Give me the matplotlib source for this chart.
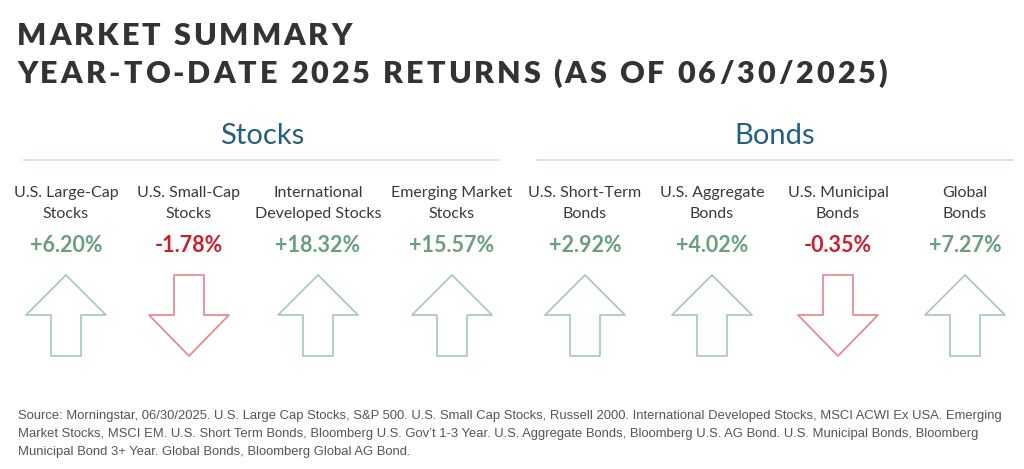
"""
Market summary panel: YTD 2025 returns for stock and bond indexes,
drawn as labelled up/down outline arrows.
"""

import matplotlib

matplotlib.use("Agg")
import matplotlib.pyplot as plt
from matplotlib.font_manager import FontProperties
from matplotlib.patches import Polygon

# --- data -------------------------------------------------------------
title_lines = ["MARKET SUMMARY", "YEAR-TO-DATE 2025 RETURNS (AS OF 06/30/2025)"]
groups = ["Stocks", "Bonds"]
categories = [
    "U.S. Large-Cap\nStocks",
    "U.S. Small-Cap\nStocks",
    "International\nDeveloped Stocks",
    "Emerging Market\nStocks",
    "U.S. Short-Term\nBonds",
    "U.S. Aggregate\nBonds",
    "U.S. Municipal\nBonds",
    "Global\nBonds",
]
category_group = [0, 0, 0, 0, 1, 1, 1, 1]
returns_pct = [6.20, -1.78, 18.32, 15.57, 2.92, 4.02, -0.35, 7.27]
source_note = [
    "Source: Morningstar, 06/30/2025. U.S. Large Cap Stocks, S&P 500. U.S. Small Cap Stocks, "
    "Russell 2000. International Developed Stocks, MSCI ACWI Ex USA. Emerging",
    "Market Stocks, MSCI EM. U.S. Short Term Bonds, Bloomberg U.S. Gov\u2019t 1-3 Year. "
    "U.S. Aggregate Bonds, Bloomberg U.S. AG Bond. U.S. Municipal Bonds, Bloomberg",
    "Municipal Bond 3+ Year. Global Bonds, Bloomberg Global AG Bond.",
]

# --- style ------------------------------------------------------------
TITLE_COLOR = "#333333"
GROUP_COLOR = "#23607f"
RULE_COLOR = "#eadcc6"
LABEL_COLOR = "#3a3a3a"
UP_TEXT = "#6a9e80"
DOWN_TEXT = "#c8202e"
UP_EDGE = "#a3c9b4"
DOWN_EDGE = "#e8838a"
NOTE_COLOR = "#555555"

SANS = ["Lato", "DejaVu Sans"]
NARROW = ["Liberation Sans Narrow", "Liberation Sans", "DejaVu Sans"]

W, H = 1024, 469
fig = plt.figure(figsize=(W / 100, H / 100), dpi=100)
ax = fig.add_axes([0, 0, 1, 1])
ax.set_xlim(0, W)
ax.set_ylim(H, 0)
ax.axis("off")

renderer = fig.canvas.get_renderer()


def tracked_text(x, y, s, prop, tracking, **kw):
    """Draw `s` one glyph at a time with extra letter spacing (pixels)."""
    for ch in s:
        ax.text(x, y, ch, fontproperties=prop, ha="left", va="baseline", **kw)
        w, _, _ = renderer.get_text_width_height_descent(ch, prop, ismath=False)
        x += w + tracking


title_prop = FontProperties(family=SANS, weight="heavy", size=22)
tracked_text(17, 45, title_lines[0], title_prop, 3.0, color=TITLE_COLOR)
tracked_text(17, 83, title_lines[1], title_prop, 3.0, color=TITLE_COLOR)

# group headers and rules
group_centers = [262, 775]
group_spans = [(23, 500), (536, 1014)]
for name, cx, (x0, x1) in zip(groups, group_centers, group_spans):
    ax.text(cx, 144, name, ha="center", va="baseline", family=SANS,
            size=21, color=GROUP_COLOR)
    ax.plot([x0, x1], [160, 160], color=RULE_COLOR, lw=1.3,
            solid_capstyle="butt")

# columns
col_x = [66, 189, 318, 452, 585, 712, 838, 965]
head_w, shaft_w = 40, 15
y_top, y_mid, y_bot = 275, 315, 356

for cx, label, val in zip(col_x, categories, returns_pct):
    ax.text(cx, 203.5, label, ha="center", va="center", family=SANS, size=11.5,
            color=LABEL_COLOR, linespacing=1.55)
    up = val >= 0
    ax.text(cx, 252, f"{val:+.2f}%", ha="center", va="baseline", family=SANS,
            weight="bold", size=15.5, color=UP_TEXT if up else DOWN_TEXT)
    if up:
        pts = [(cx, y_top), (cx + head_w, y_mid), (cx + shaft_w, y_mid),
               (cx + shaft_w, y_bot), (cx - shaft_w, y_bot),
               (cx - shaft_w, y_mid), (cx - head_w, y_mid)]
    else:
        pts = [(cx - shaft_w, y_top), (cx + shaft_w, y_top),
               (cx + shaft_w, y_mid), (cx + head_w, y_mid), (cx, y_bot),
               (cx - head_w, y_mid), (cx - shaft_w, y_mid)]
    ax.add_patch(Polygon(pts, closed=True, fill=False, lw=1.2,
                         ec=UP_EDGE if up else DOWN_EDGE, joinstyle="round"))

# source note
for i, line in enumerate(source_note):
    ax.text(18, 415.5 + i * 18.5, line, ha="left", va="center", family=NARROW,
            size=9.35, color=NOTE_COLOR)

fig.savefig("out.png", dpi=100, facecolor="white")
